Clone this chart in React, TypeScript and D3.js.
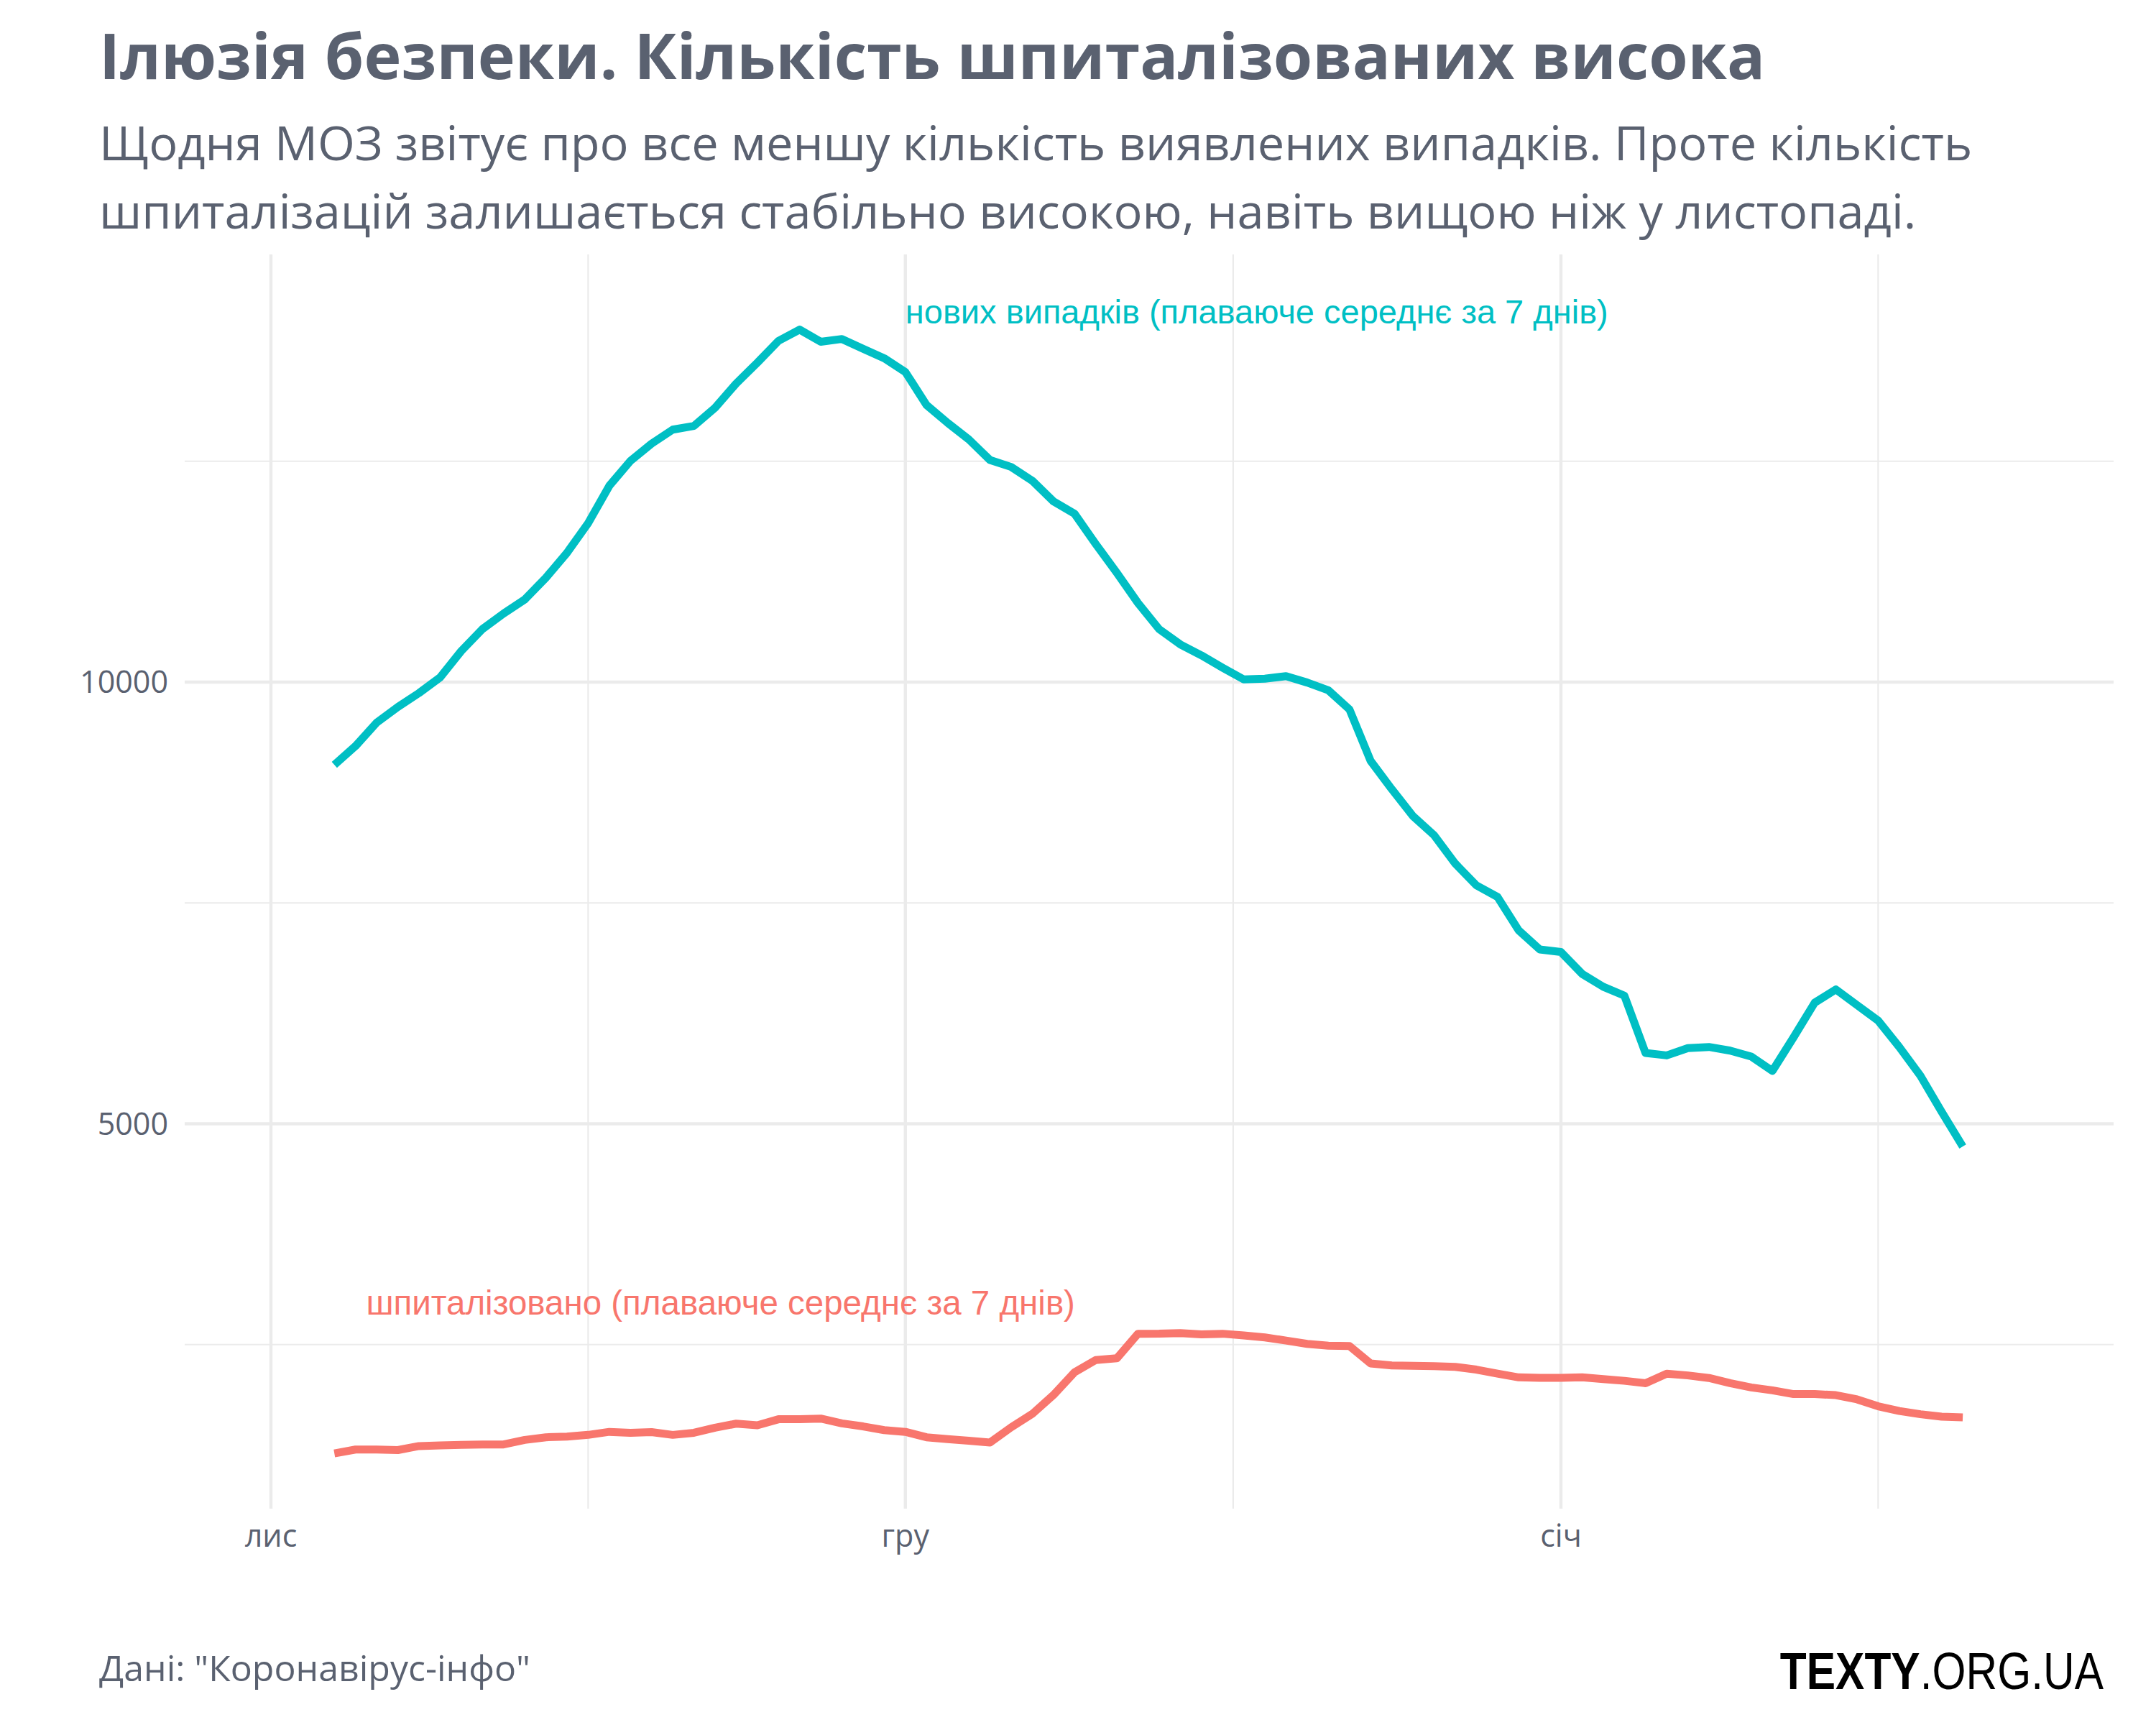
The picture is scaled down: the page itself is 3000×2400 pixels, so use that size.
import React from "react";
import * as d3 from "d3";

// ---- data ----
const startDate = Date.UTC(2020, 10, 4); // 4 Nov 2020, daily values
const casesAvg = [
  9064, 9276, 9541, 9718, 9876, 10053, 10352, 10600, 10776, 10935,
  11181, 11464, 11799, 12222, 12504, 12699, 12858, 12900, 13105, 13380,
  13616, 13863, 13990, 13853, 13884, 13774, 13666, 13510, 13137, 12934,
  12747, 12514, 12436, 12280, 12046, 11906, 11564, 11237, 10895, 10599,
  10427, 10303, 10163, 10030, 10038, 10067, 9995, 9907, 9691, 9108,
  8788, 8483, 8267, 7946, 7699, 7568, 7190, 6973, 6944, 6697,
  6551, 6450, 5801, 5774, 5856, 5869, 5828, 5761, 5598, 5978,
  6371, 6520, 6344, 6168, 5869, 5543, 5136, 4743,
];
const hospAvg = [
  1269, 1312, 1313, 1306, 1351, 1359, 1364, 1370, 1370, 1421,
  1451, 1458, 1478, 1512, 1502, 1509, 1478, 1502, 1559, 1605,
  1586, 1655, 1655, 1662, 1608, 1574, 1532, 1512, 1451, 1430,
  1411, 1391, 1563, 1715, 1929, 2187, 2325, 2345, 2623, 2624,
  2631, 2616, 2623, 2604, 2581, 2546, 2508, 2487, 2483, 2286,
  2264, 2259, 2256, 2248, 2217, 2171, 2129, 2124, 2124, 2129,
  2109, 2090, 2063, 2171, 2151, 2122, 2063, 2015, 1982, 1940,
  1940, 1928, 1880, 1802, 1748, 1712, 1685, 1676,
];
const xMajorTicks = [Date.UTC(2020, 10, 1), Date.UTC(2020, 11, 1), Date.UTC(2021, 0, 1)];
const xTickLabels = ["лис", "гру", "січ"];
const xMinorTicks = [Date.UTC(2020, 10, 16), Date.UTC(2020, 11, 16, 12), Date.UTC(2021, 0, 16)];
const yMajorTicks = [5000, 10000];
const yMinorTicks = [2500, 7500, 12500];

const title = "Ілюзія безпеки. Кількість шпиталізованих висока";
const subtitle1 = "Щодня МОЗ звітує про все меншу кількість виявлених випадків. Проте кількість";
const subtitle2 = "шпиталізацій залишається стабільно високою, навіть вищою ніж у листопаді.";
const casesLabel = "нових випадків (плаваюче середнє за 7 днів)";
const hospLabel = "шпиталізовано (плаваюче середнє за 7 днів)";
const casesLabelPos = { date: Date.UTC(2020, 11, 1), value: 14060 };
const hospLabelPos = { date: Date.UTC(2020, 10, 5, 12), value: 2840 };
const source = 'Дані: "Коронавірус-інфо"';
const logoBold = "TEXTY";
const logoRest = ".ORG.UA";

const DAY = 86400000;
const casesData = casesAvg.map((v, i) => ({ d: new Date(startDate + i * DAY), v }));
const hospData = hospAvg.map((v, i) => ({ d: new Date(startDate + i * DAY), v }));

// ---- layout ----
const W = 3000, H = 2400;
const panel = { left: 257, right: 2941, top: 354, bottom: 2099 };
const GRAY = "#5A6170";
const GRID = "#EBEBEB";
const CASES = "#00BFC4";
const HOSP = "#F8766D";

export default function App() {
  const x = d3.scaleUtc()
    .domain([new Date(xMajorTicks[0]), new Date(xMajorTicks[2])])
    .range([377, 2172]);
  const y = d3.scaleLinear().domain([5000, 10000]).range([1563.5, 949]);

  const line = d3.line<{ d: Date; v: number }>()
    .x((p) => x(p.d))
    .y((p) => y(p.v));

  const sans = "'Open Sans', 'Noto Sans', sans-serif";
  const lib = "'Liberation Sans', Arial, sans-serif";

  return (
    <svg width={W} height={H} viewBox={`0 0 ${W} ${H}`}
      style={{ position: "absolute", left: 0, top: 0, background: "#fff" }}>
      <rect x={0} y={0} width={W} height={H} fill="#fff" />
      {/* gridlines */}
      {yMinorTicks.map((t) => (
        <line key={"ym" + t} x1={panel.left} x2={panel.right} y1={y(t)} y2={y(t)} stroke={GRID} strokeWidth={2.2} />
      ))}
      {xMinorTicks.map((t) => (
        <line key={"xm" + t} x1={x(new Date(t))} x2={x(new Date(t))} y1={panel.top} y2={panel.bottom} stroke={GRID} strokeWidth={2.2} />
      ))}
      {yMajorTicks.map((t) => (
        <line key={"yM" + t} x1={panel.left} x2={panel.right} y1={y(t)} y2={y(t)} stroke={GRID} strokeWidth={4.4} />
      ))}
      {xMajorTicks.map((t) => (
        <line key={"xM" + t} x1={x(new Date(t))} x2={x(new Date(t))} y1={panel.top} y2={panel.bottom} stroke={GRID} strokeWidth={4.4} />
      ))}
      {/* axis labels */}
      {yMajorTicks.map((t) => (
        <text key={"yl" + t} x={234} y={y(t)} dy="0.36em" textAnchor="end" fontFamily={sans} fontSize={43} fill={GRAY}>{t}</text>
      ))}
      {xMajorTicks.map((t, i) => (
        <text key={"xl" + t} x={x(new Date(t))} y={2152} textAnchor="middle" fontFamily={sans} fontSize={43} fill={GRAY}>{xTickLabels[i]}</text>
      ))}
      {/* lines */}
      <path d={line(hospData) || ""} fill="none" stroke={HOSP} strokeWidth={11} strokeLinejoin="round" strokeLinecap="butt" />
      <path d={line(casesData) || ""} fill="none" stroke={CASES} strokeWidth={11} strokeLinejoin="round" strokeLinecap="butt" />
      {/* annotations */}
      <text x={x(new Date(casesLabelPos.date))} y={y(casesLabelPos.value)} fontFamily={lib} fontSize={47} fill={CASES}>{casesLabel}</text>
      <text x={x(new Date(hospLabelPos.date))} y={y(hospLabelPos.value)} fontFamily={lib} fontSize={47.5} fill={HOSP}>{hospLabel}</text>
      {/* titles */}
      <text x={138} y={110} fontFamily={sans} fontWeight={700} fontSize={88} fill={GRAY}>{title}</text>
      <text x={138} y={223} fontFamily={sans} fontSize={66.7} fill={GRAY}>{subtitle1}</text>
      <text x={138} y={318} fontFamily={sans} fontSize={66.7} fill={GRAY}>{subtitle2}</text>
      {/* footer */}
      <text x={138} y={2339} fontFamily={sans} fontSize={50} fill={GRAY}>{source}</text>
      <g transform="translate(2927,2350) scale(0.84,1)">
        <text x={0} y={0} textAnchor="end" fontFamily={lib} fontSize={72} fill="#000">
          <tspan fontWeight={700}>{logoBold}</tspan><tspan>{logoRest}</tspan>
        </text>
      </g>
    </svg>
  );
}
